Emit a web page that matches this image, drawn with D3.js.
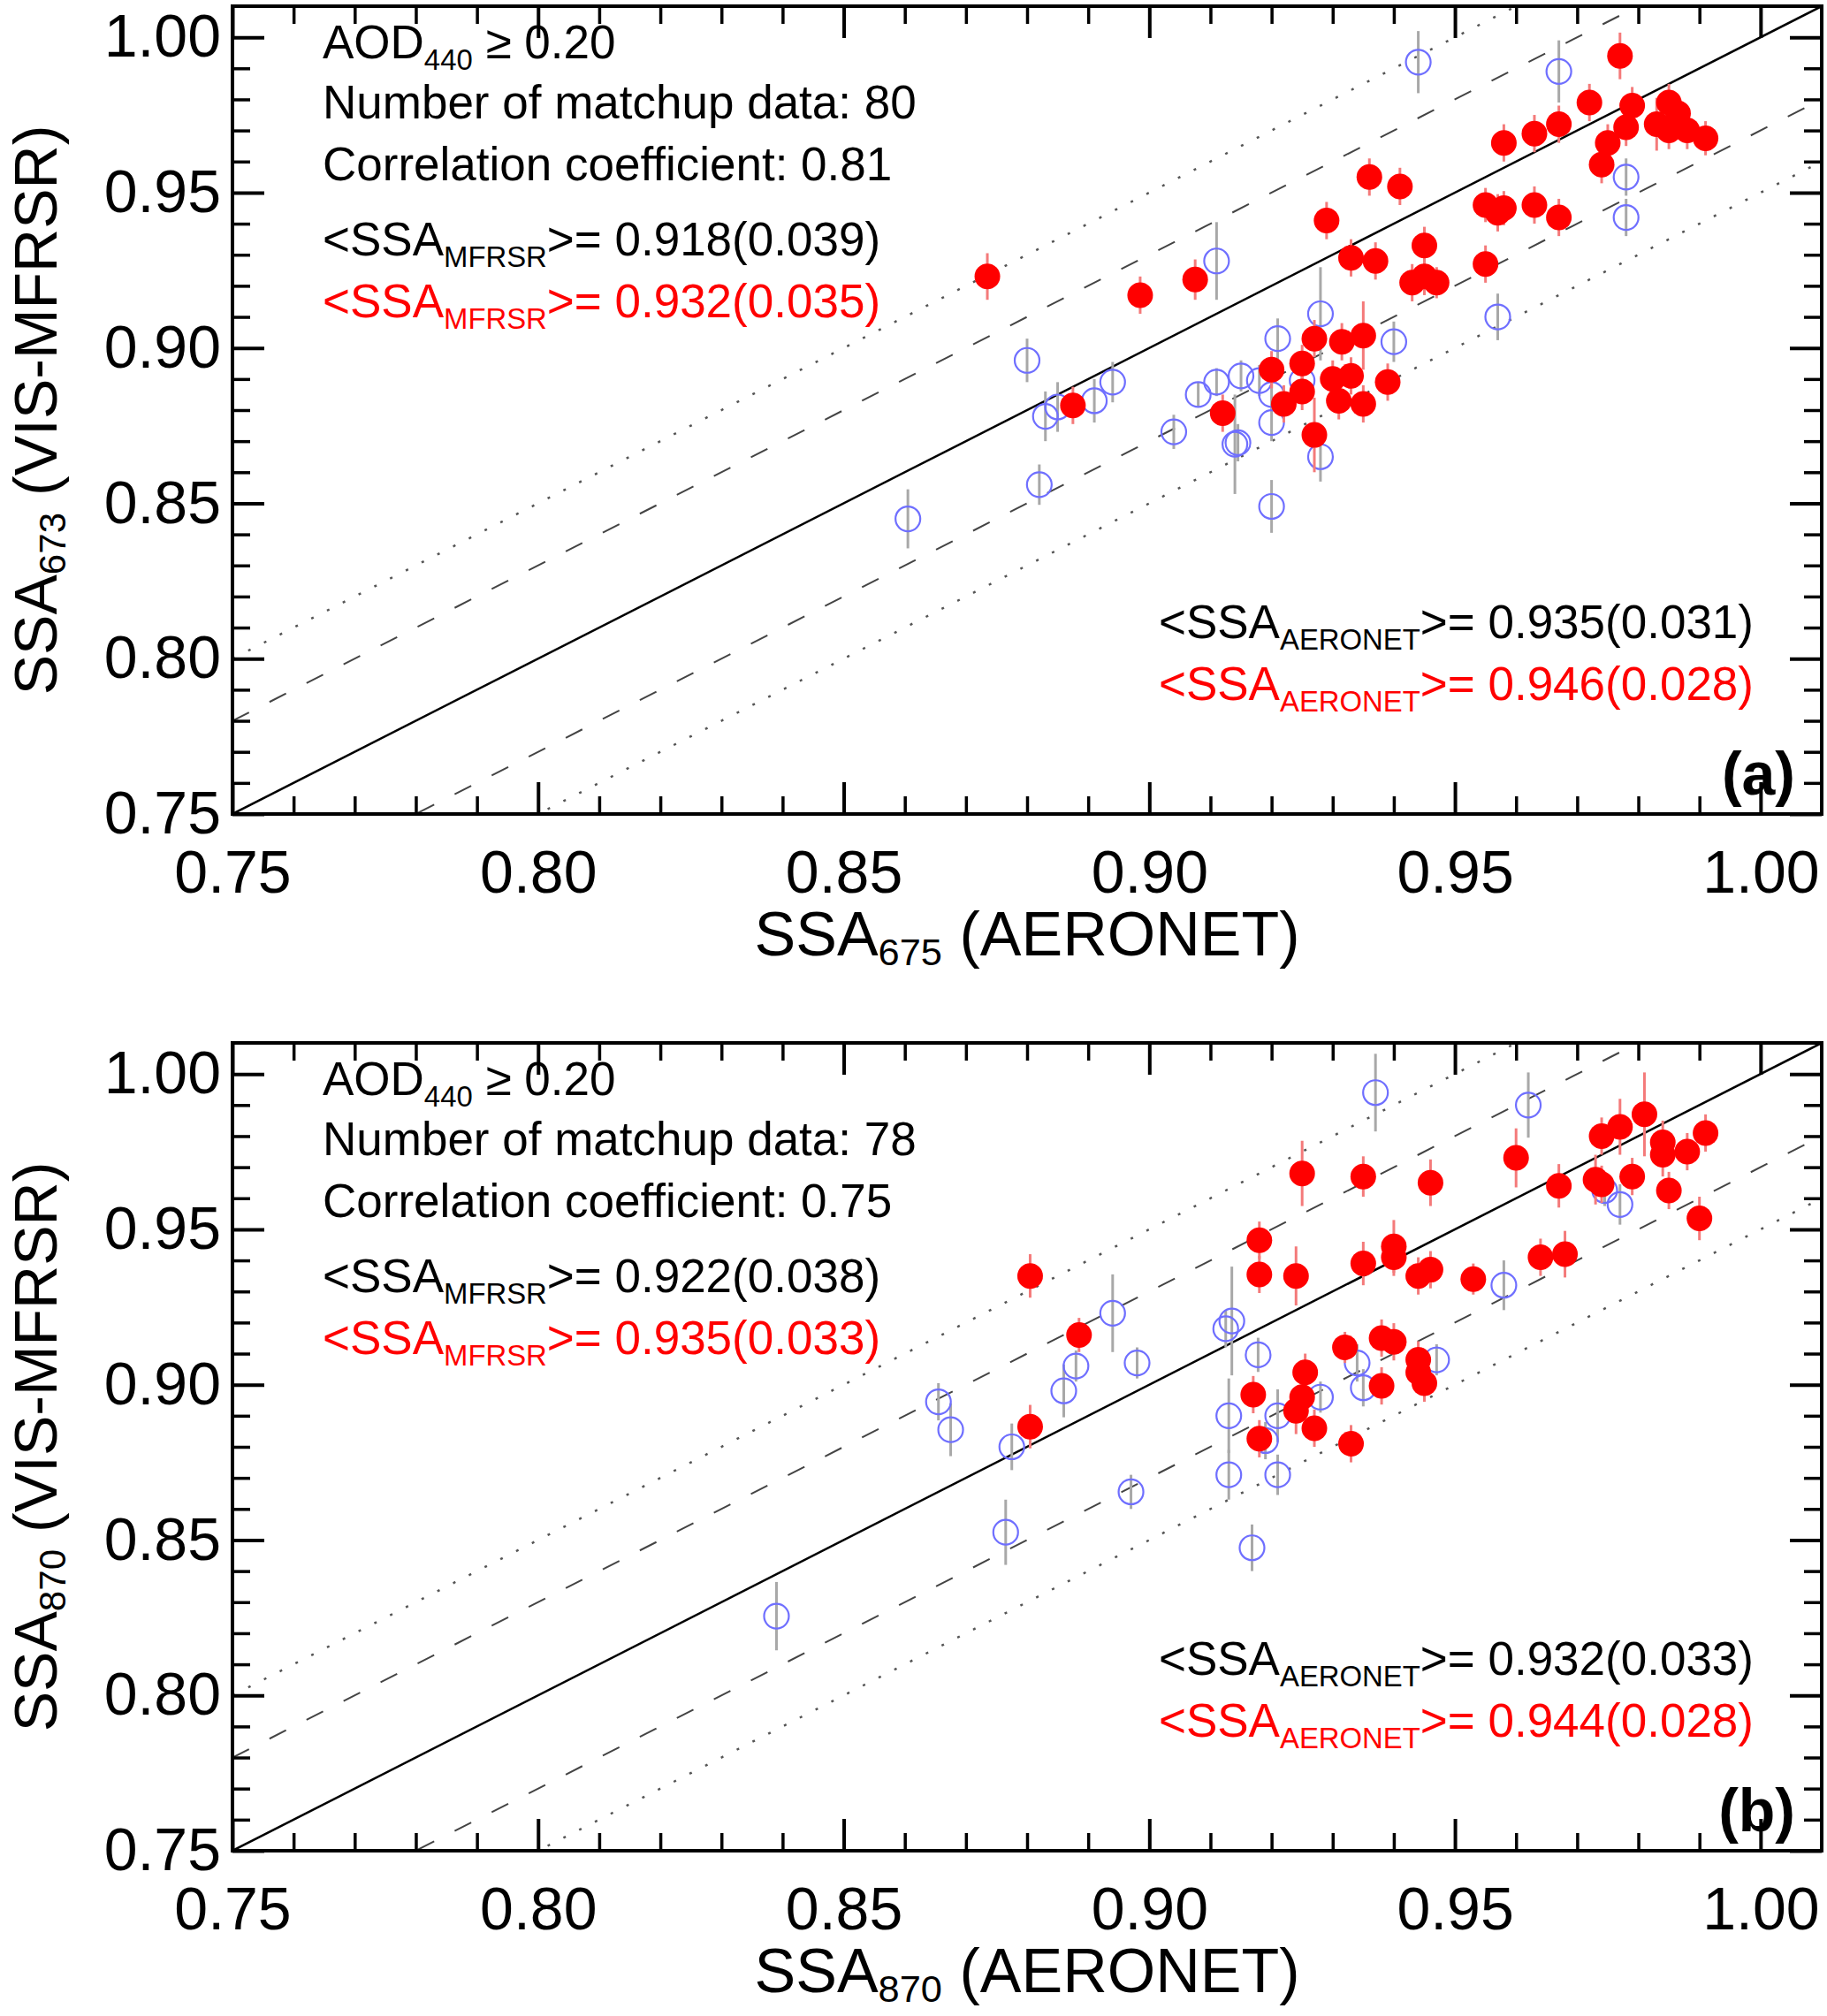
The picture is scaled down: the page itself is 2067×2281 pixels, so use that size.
<!DOCTYPE html>
<html>
<head>
<meta charset="UTF-8" />
<title>SSA comparison</title>
<script src="https://cdn.jsdelivr.net/npm/d3@7"></script>
<style>
	body { margin: 0; background: #fff; }
	text { font-family: "Liberation Sans", Arial, Helvetica, sans-serif; white-space: pre; }
</style>
</head>
<body>
<div id="chart"></div>
<script type="text/javascript">

// ---- data: [AERONET SSA, MFRSR SSA, error half-length] ----
var blueA = [
	[0.944,0.992,0.010],[0.967,0.989,0.010],[0.978,0.955,0.006],[0.978,0.942,0.006],
	[0.957,0.910,0.0075],[0.940,0.902,0.0065],[0.928,0.911,0.015],[0.928,0.865,0.008],
	[0.911,0.928,0.0125],[0.921,0.903,0.0065],[0.880,0.896,0.007],[0.894,0.889,0.0065],
	[0.891,0.883,0.007],[0.885,0.881,0.008],[0.883,0.878,0.008],[0.882,0.856,0.0065],
	[0.8605,0.845,0.0095],[0.904,0.873,0.0055],[0.908,0.885,0.004],[0.911,0.889,0.0045],
	[0.915,0.891,0.005],[0.918,0.8895,0.005],[0.920,0.885,0.005],[0.920,0.876,0.006],
	[0.925,0.8895,0.005],[0.914,0.869,0.016],[0.9145,0.8695,0.006],[0.920,0.849,0.0085]
];
var redA = [
	[0.977,0.994,0.0075],[0.972,0.979,0.006],[0.979,0.978,0.006],[0.967,0.972,0.006],
	[0.963,0.969,0.006],[0.958,0.966,0.006],[0.978,0.971,0.006],[0.975,0.966,0.006],
	[0.974,0.959,0.006],[0.985,0.979,0.006],[0.9865,0.9755,0.006],[0.983,0.972,0.0085],
	[0.985,0.970,0.006],[0.988,0.970,0.006],[0.991,0.9675,0.0055],
	[0.936,0.955,0.006],[0.941,0.952,0.006],[0.929,0.941,0.006],[0.955,0.946,0.0055],
	[0.958,0.945,0.0055],[0.957,0.9435,0.006],[0.963,0.946,0.006],[0.967,0.942,0.006],
	[0.933,0.929,0.006],[0.937,0.928,0.006],[0.945,0.933,0.006],[0.943,0.921,0.006],
	[0.945,0.923,0.006],[0.947,0.921,0.005],[0.955,0.927,0.006],
	[0.8735,0.923,0.0075],[0.8985,0.917,0.006],[0.9075,0.922,0.0065],[0.8875,0.8815,0.006],
	[0.912,0.879,0.006],[0.920,0.893,0.006],[0.925,0.895,0.006],[0.927,0.903,0.006],
	[0.922,0.882,0.006],[0.925,0.886,0.006],[0.927,0.872,0.012],[0.9315,0.902,0.006],
	[0.935,0.904,0.011],[0.930,0.890,0.006],[0.933,0.891,0.006],[0.931,0.883,0.006],
	[0.935,0.882,0.006],[0.939,0.889,0.006]
];
var blueB = [
	[0.839,0.8255,0.011],[0.937,0.994,0.0125],[0.962,0.990,0.0105],[0.977,0.958,0.0065],
	[0.9745,0.9625,0.005],[0.958,0.932,0.008],[0.894,0.923,0.0125],[0.888,0.906,0.005],
	[0.886,0.898,0.0085],[0.898,0.907,0.005],[0.8655,0.8945,0.006],[0.8675,0.8855,0.0085],
	[0.8775,0.880,0.0075],[0.8765,0.8525,0.0105],[0.897,0.8655,0.0055],[0.9135,0.9205,0.0175],
	[0.9125,0.918,0.006],[0.9178,0.9096,0.0055],[0.913,0.890,0.012],[0.913,0.871,0.008],
	[0.9168,0.8475,0.0075],[0.921,0.890,0.0085],[0.919,0.882,0.006],[0.921,0.871,0.0065],
	[0.947,0.908,0.005],[0.934,0.907,0.006],[0.935,0.899,0.006],[0.928,0.896,0.005]
];
var redB = [
	[0.8805,0.935,0.007],[0.8885,0.916,0.0055],[0.8805,0.8865,0.007],[0.918,0.9465,0.006],
	[0.918,0.9355,0.006],[0.924,0.935,0.0095],[0.917,0.8968,0.006],[0.918,0.8826,0.006],
	[0.925,0.968,0.0105],[0.935,0.967,0.0065],[0.946,0.965,0.0075],[0.960,0.973,0.0095],
	[0.981,0.987,0.0135],[0.977,0.983,0.009],[0.974,0.980,0.006],[0.984,0.978,0.007],
	[0.984,0.974,0.007],[0.988,0.975,0.006],[0.967,0.964,0.007],[0.973,0.966,0.008],
	[0.974,0.9645,0.006],[0.979,0.967,0.006],[0.985,0.9625,0.006],[0.990,0.9535,0.007],
	[0.991,0.981,0.006],[0.935,0.939,0.007],[0.940,0.9445,0.0085],[0.940,0.941,0.006],
	[0.944,0.935,0.006],[0.946,0.937,0.006],[0.953,0.934,0.005],[0.964,0.941,0.006],
	[0.968,0.942,0.0075],[0.932,0.912,0.005],[0.938,0.915,0.006],[0.940,0.9138,0.006],
	[0.944,0.908,0.006],[0.944,0.904,0.006],[0.945,0.9005,0.006],[0.938,0.8996,0.006],
	[0.9255,0.904,0.006],[0.925,0.896,0.006],[0.924,0.8916,0.0075],[0.927,0.886,0.006],
	[0.933,0.881,0.006]
];

// ---- axes / labels ----
var axisRange = [0.75, 1.01];
var majorTicks = [0.75, 0.80, 0.85, 0.90, 0.95, 1.00];
var minorTicks = d3.range(76, 100).filter(function(v) { return v % 5 !== 0; }).map(function(v) { return v / 100; });
var dashOffsets = [0.03, -0.03];
var dotOffsets = [0.05, -0.05];

var panelTags = ["(a)", "(b)"];
var xSubs = ["675", "870"];
var ySubs = ["673", "870"];
var aodMin = ["0.20", "0.20"];
var nMatch = ["80", "78"];
var corrCoef = ["0.81", "0.75"];
var mfrsrAll = ["0.918(0.039)", "0.922(0.038)"];
var mfrsrRed = ["0.932(0.035)", "0.935(0.033)"];
var aeronetAll = ["0.935(0.031)", "0.932(0.033)"];
var aeronetRed = ["0.946(0.028)", "0.944(0.028)"];
var panelData = [[blueA, redA], [blueB, redB]];

// ---- layout ----
var W = 2067, H = 2281;
var L = 263, R = 2061;
var panelTop = [7, 1180], panelH = 914;
var FONT = "'Liberation Sans', Arial, Helvetica, sans-serif";

var svg = d3.select("#chart").append("svg")
	.attr("width", W).attr("height", H)
	.style("display", "block");
svg.append("rect").attr("width", W).attr("height", H).attr("fill", "#fff");

var x = d3.scaleLinear().domain(axisRange).range([L, R]);

// text with subscripts: parts = [[string, isSub], ...]
var rich = function(g, px, py, parts, size, fill, anchor, shift) {
	var sh = (shift === undefined ? 0.24 : shift) * size;
	var t = g.append("text")
		.attr("x", px).attr("y", py)
		.attr("font-size", size)
		.attr("fill", fill || "#000")
		.attr("text-anchor", anchor || "start");
	var sub = false;
	parts.forEach(function(p) {
		var ts = t.append("tspan").text(p[0]);
		if (p[1]) ts.attr("font-size", size * 0.62);
		if (p[1] && !sub) ts.attr("dy", sh);
		else if (!p[1] && sub) ts.attr("dy", -sh);
		sub = p[1];
	});
	return t;
};

var drawPanel = function(i) {
	var top = panelTop[i], bot = top + panelH;
	var y = d3.scaleLinear().domain(axisRange).range([bot, top]);
	var g = svg.append("g");

	g.append("clipPath").attr("id", "clip" + i)
		.append("rect").attr("x", L).attr("y", top).attr("width", R - L).attr("height", bot - top);

	// 1:1, +-0.03 and +-0.05 lines
	var ln = d3.line().x(function(d) { return x(d[0]); }).y(function(d) { return y(d[1]); });
	var seg = function(o) { return [[axisRange[0], axisRange[0] + o], [axisRange[1], axisRange[1] + o]]; };
	var lines = g.append("g").attr("clip-path", "url(#clip" + i + ")").attr("fill", "none");
	dotOffsets.forEach(function(o) {
		lines.append("path").attr("d", ln(seg(o)))
			.attr("stroke", "#555").attr("stroke-width", 2.5).attr("stroke-dasharray", "3,17");
	});
	dashOffsets.forEach(function(o) {
		lines.append("path").attr("d", ln(seg(o)))
			.attr("stroke", "#444").attr("stroke-width", 2).attr("stroke-dasharray", "21,26");
	});
	lines.append("path").attr("d", ln(seg(0))).attr("stroke", "#000").attr("stroke-width", 2.5);

	// points: blue open first, then red filled
	var blue = panelData[i][0], red = panelData[i][1];
	var pts = g.append("g").attr("clip-path", "url(#clip" + i + ")");
	pts.selectAll(".eb-blue").data(blue).enter().append("line")
		.attr("x1", function(d) { return x(d[0]); }).attr("x2", function(d) { return x(d[0]); })
		.attr("y1", function(d) { return y(d[1] - d[2]); }).attr("y2", function(d) { return y(d[1] + d[2]); })
		.attr("stroke", "#a8a8a8").attr("stroke-width", 3);
	pts.selectAll(".pt-blue").data(blue).enter().append("circle")
		.attr("cx", function(d) { return x(d[0]); }).attr("cy", function(d) { return y(d[1]); })
		.attr("r", 14).attr("fill", "none").attr("stroke", "#6f6fff").attr("stroke-width", 2.2);
	pts.selectAll(".eb-red").data(red).enter().append("line")
		.attr("x1", function(d) { return x(d[0]); }).attr("x2", function(d) { return x(d[0]); })
		.attr("y1", function(d) { return y(d[1] - d[2]); }).attr("y2", function(d) { return y(d[1] + d[2]); })
		.attr("stroke", "#f47a7a").attr("stroke-width", 3);
	pts.selectAll(".pt-red").data(red).enter().append("circle")
		.attr("cx", function(d) { return x(d[0]); }).attr("cy", function(d) { return y(d[1]); })
		.attr("r", 14.5).attr("fill", "#ff0000");

	// axes, ticks inward on all four sides
	var fmt = d3.format(".2f");
	var mk = function(axis, scale, vals, len, withLabels, pad) {
		var a = axis(scale).tickValues(vals).tickSize(-len).tickSizeOuter(0).tickPadding(pad || 0);
		a.tickFormat(withLabels ? fmt : "");
		return a;
	};
	var styleAx = function(sel, w) {
		sel.select(".domain").remove();
		sel.selectAll(".tick line").attr("stroke", "#000").attr("stroke-width", w);
		sel.selectAll(".tick text").attr("font-family", FONT).attr("font-size", 68).attr("fill", "#000");
	};
	styleAx(g.append("g").attr("transform", "translate(0," + bot + ")").call(mk(d3.axisBottom, x, minorTicks, 20, false)), 3.5);
	styleAx(g.append("g").attr("transform", "translate(0," + bot + ")").call(mk(d3.axisBottom, x, majorTicks, 36, true, 41)), 4);
	styleAx(g.append("g").attr("transform", "translate(0," + top + ")").call(mk(d3.axisTop, x, minorTicks, 20, false)), 3.5);
	styleAx(g.append("g").attr("transform", "translate(0," + top + ")").call(mk(d3.axisTop, x, majorTicks, 36, false)), 4);
	styleAx(g.append("g").attr("transform", "translate(" + L + ",0)").call(mk(d3.axisLeft, y, minorTicks, 20, false)), 3.5);
	styleAx(g.append("g").attr("transform", "translate(" + L + ",0)").call(mk(d3.axisLeft, y, majorTicks, 36, true, 13)), 4);
	styleAx(g.append("g").attr("transform", "translate(" + R + ",0)").call(mk(d3.axisRight, y, minorTicks, 20, false)), 3.5);
	styleAx(g.append("g").attr("transform", "translate(" + R + ",0)").call(mk(d3.axisRight, y, majorTicks, 36, false)), 4);

	g.append("rect").attr("x", L).attr("y", top).attr("width", R - L).attr("height", bot - top)
		.attr("fill", "none").attr("stroke", "#000").attr("stroke-width", 4);

	// axis titles
	rich(g, (L + R) / 2, bot + 160, [["SSA", false], [xSubs[i], true], [" (AERONET)", false]], 70, "#000", "middle", 0.15);
	var yt = rich(g, 0, 0, [["SSA", false], [ySubs[i], true], [" (VIS-MFRSR)", false]], 68, "#000", "middle", 0.15);
	yt.attr("transform", "translate(64," + ((top + bot) / 2) + ") rotate(-90)");

	// annotations
	var tx = 365;
	rich(g, tx, top + 59, [["AOD", false], ["440", true], [" \u2265 " + aodMin[i], false]], 53);
	rich(g, tx, top + 127, [["Number of matchup data: " + nMatch[i], false]], 53);
	rich(g, tx, top + 197, [["Correlation coefficient: " + corrCoef[i], false]], 53);
	rich(g, tx, top + 282, [["<SSA", false], ["MFRSR", true], [">= " + mfrsrAll[i], false]], 53);
	rich(g, tx, top + 352, [["<SSA", false], ["MFRSR", true], [">= " + mfrsrRed[i], false]], 53, "#ff0000");
	rich(g, 1984, bot - 199, [["<SSA", false], ["AERONET", true], [">= " + aeronetAll[i], false]], 53, "#000", "end");
	rich(g, 1984, bot - 129, [["<SSA", false], ["AERONET", true], [">= " + aeronetRed[i], false]], 53, "#ff0000", "end");
	g.append("text").attr("x", 2031).attr("y", bot - 22)
		.attr("text-anchor", "end").attr("font-size", 68).attr("font-weight", "bold")
		.text(panelTags[i]);
};

drawPanel(0);
drawPanel(1);

</script>
</body>
</html>
